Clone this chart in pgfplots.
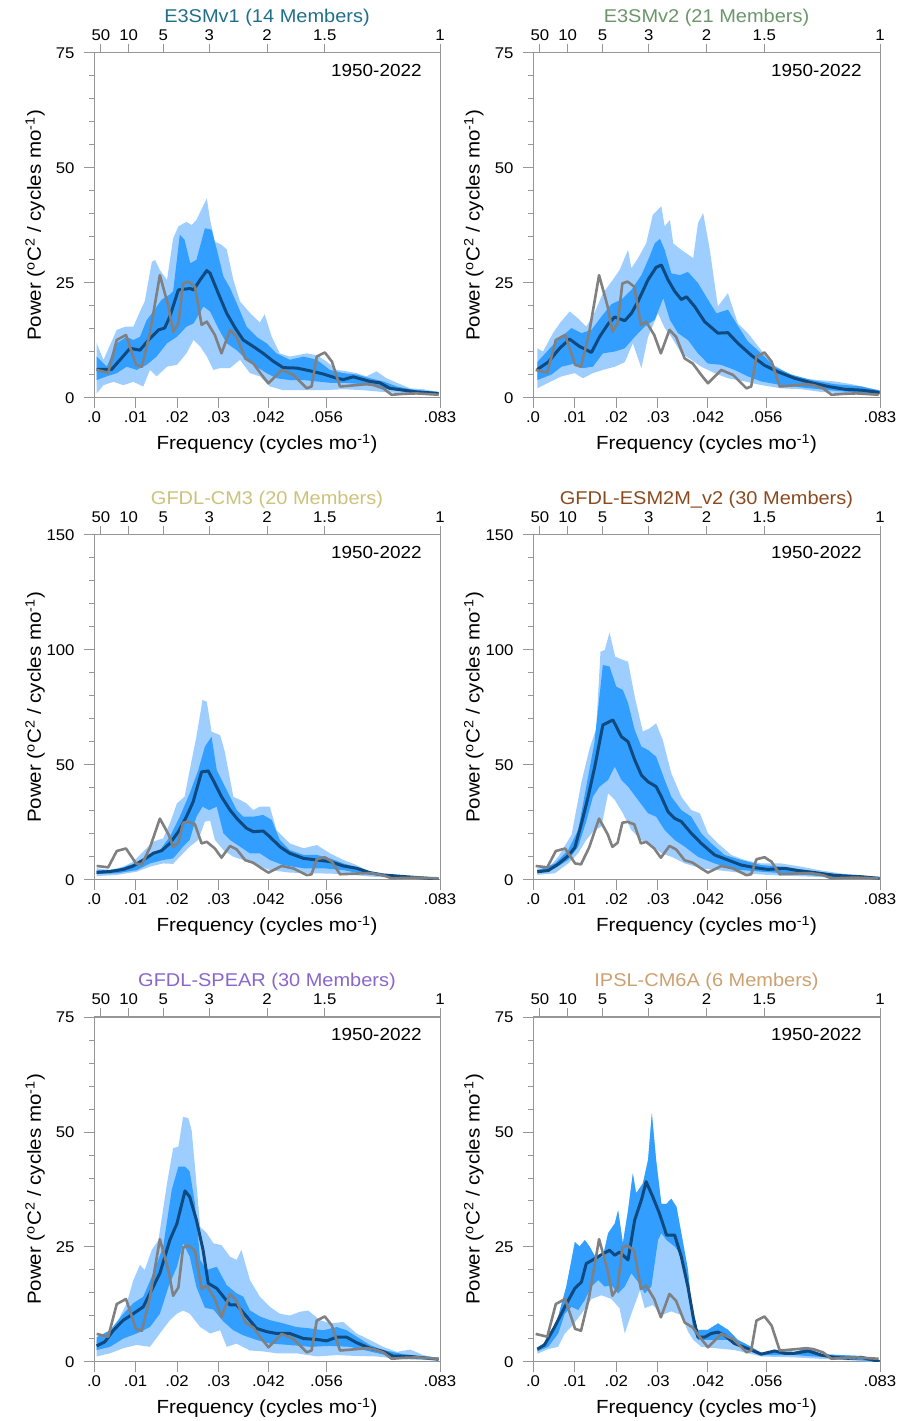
\documentclass[border=0pt]{standalone}
\usepackage{pgfplots}
\pgfplotsset{compat=1.18}
\usepgfplotslibrary{fillbetween}
\usepackage{pgfplotstable}
\usepackage{fontspec}
\setmainfont[FakeStretch=1.08]{Liberation Sans}
\definecolor{lightb}{RGB}{158,206,255}
\definecolor{darkb}{RGB}{50,158,255}
\definecolor{meanc}{RGB}{14,74,128}
\definecolor{obsc}{RGB}{128,128,128}
\definecolor{framec}{RGB}{150,150,150}
\definecolor{tA}{RGB}{31,111,139}
\definecolor{tB}{RGB}{106,150,106}
\definecolor{tC}{RGB}{204,194,122}
\definecolor{tD}{RGB}{139,74,30}
\definecolor{tE}{RGB}{136,102,204}
\definecolor{tF}{RGB}{204,160,112}
\newcommand\fTick{\fontsize{15.5}{18}\selectfont}
\newcommand\fLab{\fontsize{19}{22}\selectfont}
\newcommand\fTitle{\fontsize{18.5}{22}\selectfont}
\newcommand\fYear{\fontsize{17.5}{21}\selectfont}

\pgfplotstableread{
k v
0.56 6.1
3.0 5.5
4.8 12.6
6.75 13.7
8.86 7.2
10.1 6.8
11.8 14.1
13.9 26.7
15.7 19.9
16.7 14.4
17.8 16.2
18.8 24.9
19.9 25.3
21.3 24.2
22.7 15.9
23.8 16.6
25.5 13.7
26.9 9.7
28.7 14.8
30.1 13.3
31.9 8.6
33.6 7.5
35.4 5.0
36.8 3.2
39.6 6.1
42.1 5.0
44.9 2.1
45.9 2.5
47.0 9.0
48.7 9.9
50.2 7.9
51.9 2.5
53.2 2.6
55.4 2.8
57.5 3.0
59.0 2.8
61.0 2.1
62.8 0.7
65.3 0.9
68.1 1.0
72.7 0.7
}\obs

\pgfplotsset{
  panel/.style={
    scale only axis, width=346pt, height=345pt,
    xmin=0, xmax=73, ymin=0,
    axis line style={framec, line width=1pt},
    tick style={framec, line width=1pt},
    tick align=outside,
    major tick length=10pt, minor tick length=5pt,
    xtick={0,8.76,17.52,26.28,36.79,49.06,73},
    xticklabels={.0,.01,.02,.03,.042,.056,.083},
    xtick pos=bottom, ytick pos=left,
    minor y tick num=4,
    ticklabel style={font=\fTick, text=black},
    yticklabel style={xshift=-6pt},
    every axis x label/.style={at={(axis description cs:0.5,-0.1507)},anchor=base,font=\fLab},
    every axis y label/.style={at={(axis description cs:-0.1705,0.5)},rotate=90,anchor=center,font=\fLab},
    xlabel={Frequency (cycles mo\textsuperscript{-1})},
    ylabel={Power (\textsuperscript{o}C\textsuperscript{2} / cycles mo\textsuperscript{-1})},
    title style={at={(axis description cs:0.5,1.07)},anchor=base,font=\fTitle},
  },
  p75/.style={ymax=75, ytick={0,25,50,75}, yticklabels={0,25,50,75}},
  p150/.style={ymax=150, ytick={0,50,100,150}, yticklabels={0,50,100,150}},
  toppanel/.style={
    scale only axis, width=346pt, height=345pt,
    xmin=0, xmax=73, ymin=0, ymax=1,
    axis x line=top, hide y axis,
    axis line style={-, framec, line width=1pt},
    tick style={framec, line width=1pt},
    tick align=outside, major tick length=9pt,
    xtick={1.46,7.3,14.6,24.33,36.5,48.67,73},
    xticklabels={50,10,5,3,2,1.5,1},
    ticklabel style={font=\fTick, text=black},
  },
  lightf/.style={fill=lightb, draw=none},
  darkf/.style={fill=darkb, draw=none},
  meanl/.style={meanc, line width=3pt, line join=round},
  obsl/.style={obsc, line width=2.6pt, line join=round},
}
\newcommand\yearlabel{\node[anchor=base east, font=\fYear] at (rel axis cs:0.957,0.933) {1950-2022};}
\newcommand\dummy{\addplot[draw=none] coordinates {(0,0)(73,1)};}

\begin{document}
\begin{tikzpicture}

% ---------------- Panel 1: E3SMv1
\begin{axis}[panel, p75, at={(94pt,1023pt)}, anchor=south west, title={\color{tA}E3SMv1 (14 Members)}]
\addplot[name path=lu, draw=none] coordinates {(0.56,11.9)(2.0,8.3)(4.8,14.8)(6.6,15.5)(8.3,15.5)(9.7,18.8)(10.7,21.0)(12.2,29.6)(12.9,30.0)(13.9,27.8)(15.4,25.7)(16.7,34.7)(17.8,37.3)(19.5,38.3)(20.6,37.6)(21.6,38.7)(23.8,43.4)(24.5,38.7)(25.5,34.0)(26.9,33.3)(28.0,32.3)(29.4,25.7)(30.8,21.0)(32.9,18.5)(35.0,16.4)(36.0,18.2)(37.5,13.3)(39.2,9.7)(41.3,9.0)(44.9,9.7)(47.0,9.3)(49.1,7.9)(51.2,6.1)(53.3,5.8)(55.4,5.4)(57.5,4.7)(59.6,5.8)(61.7,4.3)(63.9,3.3)(66.7,2.1)(69.5,1.9)(72.7,1.3)};
\addplot[name path=ll, draw=none] coordinates {(0.56,1.0)(2.0,2.8)(4.1,3.5)(6.2,2.8)(8.3,3.5)(10.4,2.5)(11.8,6.1)(13.2,4.7)(15.4,6.8)(17.5,7.2)(19.5,9.7)(21.0,12.6)(22.4,11.2)(23.8,9.0)(25.2,6.1)(26.6,6.5)(28.7,6.5)(30.8,8.3)(32.9,5.4)(35.0,4.7)(37.1,2.5)(39.9,1.7)(44.2,1.7)(48.4,1.7)(52.6,1.9)(56.8,1.7)(61.0,1.3)(65.3,1.0)(69.5,0.8)(72.7,0.7)};
\addplot[lightf] fill between[of=lu and ll];
\addplot[name path=du, draw=none] coordinates {(0.56,9.0)(2.7,6.8)(4.8,11.9)(6.9,13.3)(8.3,12.6)(9.7,13.3)(11.1,16.9)(12.5,18.8)(14.3,21.4)(16.0,22.5)(16.7,23.2)(18.1,35.5)(19.1,34.4)(20.3,29.3)(21.6,30.0)(23.4,36.9)(24.8,36.6)(25.9,32.3)(27.3,26.4)(28.7,23.9)(30.4,19.9)(32.2,15.5)(34.3,13.3)(36.4,11.9)(38.5,9.7)(41.3,8.3)(44.2,9.0)(47.0,8.3)(49.8,6.1)(52.6,5.4)(55.4,5.1)(58.2,4.3)(61.0,3.6)(63.9,2.5)(66.7,1.9)(69.5,1.6)(72.7,1.2)};
\addplot[name path=dl, draw=none] coordinates {(0.56,3.9)(2.7,4.7)(4.8,5.4)(6.9,6.8)(9.0,6.1)(11.1,7.2)(13.2,9.0)(15.4,11.9)(17.5,13.3)(19.5,15.5)(21.0,16.2)(23.1,19.9)(24.5,18.8)(26.2,15.2)(28.0,11.9)(30.1,10.4)(32.2,8.3)(34.3,6.8)(36.4,5.4)(38.5,4.3)(41.3,3.9)(44.2,3.9)(47.0,3.6)(49.8,3.3)(52.6,3.3)(55.4,3.1)(58.2,2.8)(61.0,2.1)(63.9,1.6)(66.7,1.2)(72.7,0.8)};
\addplot[darkf] fill between[of=du and dl];
\addplot[meanl] coordinates {(0.56,6.2)(3.7,6.2)(5.5,8.3)(7.6,10.8)(9.7,10.4)(11.5,12.6)(13.6,14.8)(14.9,15.2)(16.0,17.7)(17.8,23.5)(20.3,23.8)(21.0,23.5)(22.4,25.7)(23.8,27.7)(24.5,27.1)(26.2,22.8)(28.0,18.4)(29.8,15.2)(31.5,12.6)(33.6,11.2)(35.7,9.7)(37.8,8.0)(39.9,6.6)(42.8,6.5)(45.6,5.9)(48.4,5.2)(51.2,4.3)(52.6,4.0)(54.7,4.6)(56.1,4.2)(58.2,3.6)(60.3,3.3)(62.4,2.1)(65.3,1.7)(68.1,1.3)(72.7,1.0)};
\addplot[obsl] table[x=k,y=v] {\obs};
\yearlabel
\end{axis}
\begin{axis}[toppanel, at={(94pt,1023pt)}, anchor=south west]\dummy\end{axis}

% ---------------- Panel 2: E3SMv2
\begin{axis}[panel, p75, width=347pt, at={(533pt,1023pt)}, anchor=south west, title={\color{tB}E3SMv2 (21 Members)}]
\addplot[name path=lu, draw=none] coordinates {(0.9,10.8)(2.1,10.1)(4.2,14.1)(5.6,16.2)(7.7,18.8)(9.5,17.3)(11.2,15.5)(12.9,18.4)(14.7,22.8)(16.8,25.7)(18.2,27.8)(20.0,32.2)(20.7,28.2)(22.1,30.4)(23.8,33.6)(25.2,39.8)(27.0,41.7)(27.7,37.3)(28.8,38.7)(29.5,33.6)(31.2,32.2)(33.7,30.4)(34.7,38.0)(35.8,40.2)(37.2,32.2)(38.9,19.9)(41.0,22.8)(43.1,16.2)(45.2,14.1)(48.0,10.4)(50.8,7.1)(53.6,5.4)(56.4,4.3)(59.9,3.9)(63.5,3.6)(67.0,3.0)(72.9,1.7)};
\addplot[name path=ll, draw=none] coordinates {(0.9,2.1)(3.2,3.3)(6.0,4.7)(8.8,5.4)(10.5,4.3)(12.6,5.4)(14.7,6.1)(17.2,6.8)(19.3,7.8)(21.0,11.9)(22.8,6.5)(24.2,13.3)(26.3,18.4)(27.7,15.2)(29.1,13.3)(31.2,9.7)(33.3,8.3)(35.4,6.8)(38.2,5.4)(41.0,4.3)(44.5,3.6)(48.0,2.8)(52.2,2.1)(56.4,1.9)(60.7,1.3)(65.6,1.0)(72.9,0.7)};
\addplot[lightf] fill between[of=lu and ll];
\addplot[name path=du, draw=none] coordinates {(0.9,7.8)(3.9,11.2)(6.0,13.3)(8.1,15.2)(10.2,14.1)(12.3,14.8)(14.4,17.7)(16.5,20.4)(18.6,21.4)(20.7,23.5)(22.8,26.7)(24.5,30.7)(25.6,33.6)(26.7,34.6)(27.7,32.2)(29.1,27.1)(30.9,26.7)(32.6,27.4)(34.7,25.0)(36.8,21.4)(38.6,18.4)(41.0,19.2)(42.8,16.2)(45.2,12.3)(48.0,9.7)(50.8,6.8)(54.3,5.1)(58.6,3.9)(63.5,3.0)(69.1,2.5)(72.9,1.6)};
\addplot[name path=dl, draw=none] coordinates {(0.9,3.9)(3.9,5.1)(6.0,6.8)(8.8,7.5)(10.5,6.5)(12.6,6.8)(14.7,9.7)(17.2,10.1)(19.3,10.8)(21.4,13.3)(23.5,15.5)(25.6,17.0)(27.4,21.7)(28.8,17.0)(30.5,14.1)(32.6,12.6)(34.7,9.7)(36.8,7.5)(39.6,7.2)(42.4,6.1)(45.2,4.7)(48.0,3.6)(52.2,2.8)(56.4,2.3)(62.1,1.7)(72.9,0.8)};
\addplot[darkf] fill between[of=du and dl];
\addplot[meanl] coordinates {(0.9,6.2)(3.2,7.8)(5.6,10.8)(7.7,12.8)(9.8,11.2)(12.3,9.9)(14.0,13.3)(15.8,16.1)(17.2,17.6)(19.3,16.8)(20.7,18.4)(22.1,21.0)(24.2,25.7)(25.9,28.4)(27.0,28.9)(28.4,25.7)(29.8,23.2)(31.2,21.4)(32.3,22.0)(34.0,19.9)(36.1,16.6)(38.9,14.1)(41.0,14.2)(43.1,11.9)(45.9,9.3)(48.7,7.1)(51.5,5.7)(55.0,4.3)(58.6,3.3)(62.1,2.5)(65.6,1.9)(69.1,1.7)(72.9,1.2)};
\addplot[obsl] table[x=k,y=v] {\obs};
\yearlabel
\end{axis}
\begin{axis}[toppanel, width=347pt, at={(533pt,1023pt)}, anchor=south west]\dummy\end{axis}

% ---------------- Panel 3: GFDL-CM3
\begin{axis}[panel, p150, at={(94pt,541pt)}, anchor=south west, title={\color{tC}GFDL-CM3 (20 Members)}]
\addplot[name path=lu, draw=none] coordinates {(0.56,5.1)(3.4,4.3)(6.2,5.8)(8.3,8.0)(10.4,12.3)(12.5,16.7)(14.6,18.1)(16.0,24.6)(17.5,33.3)(19.1,36.2)(20.2,47.8)(21.6,62.3)(22.9,78.3)(23.8,77.5)(24.8,64.5)(26.6,63.0)(27.6,55.8)(29.4,36.2)(30.8,34.8)(32.2,33.3)(33.6,30.4)(35.0,31.9)(37.1,31.9)(38.5,21.7)(41.3,15.9)(44.2,13.8)(47.0,15.2)(49.8,11.6)(52.6,8.7)(55.4,6.5)(58.2,3.6)(62.4,2.2)(66.7,1.5)(72.7,0.7)};
\addplot[name path=ll, draw=none] coordinates {(0.56,1.7)(4.8,2.2)(9.0,3.6)(11.8,5.8)(14.6,7.2)(16.7,7.0)(18.1,10.1)(20.2,14.5)(22.0,17.4)(23.4,25.4)(24.5,25.8)(25.5,17.4)(27.3,13.0)(29.4,10.1)(31.5,8.7)(34.3,6.5)(37.1,4.3)(41.3,3.2)(47.0,2.9)(52.6,2.6)(58.2,1.5)(65.3,0.7)(72.7,0.3)};
\addplot[lightf] fill between[of=lu and ll];
\addplot[name path=du, draw=none] coordinates {(0.56,4.1)(4.8,4.6)(8.3,7.0)(11.1,10.1)(13.9,13.0)(16.0,18.8)(18.1,27.5)(20.2,37.7)(22.0,47.8)(23.4,58.0)(24.8,62.3)(25.9,47.8)(27.3,42.0)(28.7,36.2)(30.1,30.4)(31.5,27.5)(33.6,27.5)(35.7,28.3)(37.5,26.1)(39.2,17.4)(41.3,13.0)(44.2,10.9)(47.0,10.9)(49.8,9.4)(52.6,7.2)(55.4,5.5)(58.2,3.2)(62.4,1.7)(72.7,0.6)};
\addplot[name path=dl, draw=none] coordinates {(0.56,2.6)(4.8,2.9)(9.0,4.3)(11.8,7.2)(14.6,8.7)(16.7,9.4)(18.8,14.5)(20.2,17.4)(21.6,27.5)(22.9,31.9)(24.3,30.4)(25.9,31.9)(27.3,20.3)(28.7,17.4)(30.8,14.5)(32.9,11.6)(35.0,11.6)(37.1,8.7)(39.9,6.5)(44.2,5.1)(48.4,5.1)(52.6,4.3)(56.8,2.6)(62.4,1.2)(72.7,0.3)};
\addplot[darkf] fill between[of=du and dl];
\addplot[meanl] coordinates {(0.56,3.3)(3.4,3.7)(6.2,4.6)(8.3,6.1)(10.4,8.7)(12.5,11.6)(14.3,12.8)(16.0,15.9)(17.8,21.0)(19.5,27.5)(20.9,33.9)(22.7,47.0)(24.1,47.4)(25.5,42.0)(26.9,36.2)(28.7,30.4)(30.4,26.1)(32.2,22.5)(33.6,21.0)(35.7,21.3)(37.1,18.8)(39.2,14.5)(41.3,11.6)(44.2,9.4)(47.0,8.7)(49.8,8.0)(52.6,6.1)(55.4,5.1)(58.2,3.2)(61.0,2.2)(65.3,1.5)(72.7,0.4)};
\addplot[obsl] table[x=k,y=v] {\obs};
\yearlabel
\end{axis}
\begin{axis}[toppanel, at={(94pt,541pt)}, anchor=south west]\dummy\end{axis}

% ---------------- Panel 4: GFDL-ESM2M_v2
\begin{axis}[panel, p150, width=347pt, at={(533pt,541pt)}, anchor=south west, title={\color{tD}GFDL-ESM2M\_v2 (30 Members)}]
\addplot[name path=lu, draw=none] coordinates {(0.9,5.1)(3.2,5.1)(5.3,10.1)(8.1,19.6)(10.2,42.7)(11.9,57.2)(13.3,65.9)(14.2,99.3)(15.1,100.0)(16.1,107.6)(17.3,97.1)(18.9,95.7)(20.0,94.9)(21.4,79.7)(23.1,64.5)(24.5,65.9)(25.9,68.1)(27.3,60.9)(29.1,46.4)(31.2,36.2)(33.3,30.4)(35.1,29.0)(36.8,20.3)(38.9,15.9)(41.7,10.9)(44.5,8.7)(48.0,7.2)(52.2,7.2)(56.4,5.8)(60.7,4.1)(65.6,2.6)(72.9,1.4)};
\addplot[name path=ll, draw=none] coordinates {(0.9,2.2)(4.6,2.9)(7.4,7.2)(9.5,11.6)(11.2,17.4)(12.9,21.7)(14.4,23.2)(15.8,37.7)(17.2,34.8)(18.9,29.0)(20.7,21.7)(22.8,17.4)(24.9,15.2)(27.0,11.6)(29.1,10.1)(31.9,7.2)(35.4,5.1)(39.6,4.1)(44.5,2.9)(49.4,2.2)(55.0,1.7)(62.1,1.2)(72.9,0.3)};
\addplot[lightf] fill between[of=lu and ll];
\addplot[name path=du, draw=none] coordinates {(0.9,4.1)(4.6,7.2)(7.4,13.0)(9.5,21.7)(11.2,40.6)(12.9,59.4)(14.7,93.5)(16.1,92.8)(17.5,84.1)(18.9,82.6)(20.0,76.8)(21.4,65.2)(22.8,58.0)(24.2,56.5)(25.9,53.6)(27.7,43.5)(29.1,36.2)(31.2,30.4)(33.3,27.5)(35.4,20.3)(37.5,15.9)(40.3,10.9)(43.8,8.7)(48.0,6.5)(52.2,5.8)(56.4,4.6)(62.1,2.9)(72.9,1.0)};
\addplot[name path=dl, draw=none] coordinates {(0.9,2.9)(4.6,5.1)(7.4,8.7)(9.5,14.5)(11.2,25.4)(12.6,36.2)(14.0,40.6)(15.8,43.5)(17.2,49.3)(18.6,43.5)(20.0,40.6)(22.1,34.8)(24.2,29.0)(25.9,27.5)(27.7,21.7)(29.8,17.4)(31.9,14.5)(34.7,10.1)(38.2,7.2)(42.4,4.6)(48.0,3.6)(55.0,2.6)(62.1,1.4)(72.9,0.6)};
\addplot[darkf] fill between[of=du and dl];
\addplot[meanl] coordinates {(0.9,3.6)(3.2,4.1)(5.3,6.9)(7.4,10.5)(8.8,14.1)(10.2,24.6)(11.6,36.2)(13.0,49.3)(14.7,67.4)(16.8,69.6)(18.6,62.3)(20.0,60.1)(21.4,52.2)(22.8,45.6)(24.2,42.7)(25.9,40.6)(27.0,36.2)(28.4,29.7)(29.8,26.8)(31.2,25.4)(33.3,20.3)(35.4,15.9)(38.2,10.9)(41.0,8.7)(43.8,6.5)(46.6,5.4)(49.4,4.6)(52.9,5.1)(55.7,4.1)(59.3,3.2)(63.5,2.0)(69.1,1.4)(72.9,0.7)};
\addplot[obsl] table[x=k,y=v] {\obs};
\yearlabel
\end{axis}
\begin{axis}[toppanel, width=347pt, at={(533pt,541pt)}, anchor=south west]\dummy\end{axis}

% ---------------- Panel 5: GFDL-SPEAR
\begin{axis}[panel, p75, at={(94pt,59pt)}, anchor=south west, title={\color{tE}GFDL-SPEAR (30 Members)}]
\addplot[name path=lu, draw=none] coordinates {(0.56,4.8)(2.7,5.5)(4.8,8.4)(6.9,12.8)(8.3,17.8)(9.7,21.1)(10.7,20.0)(12.2,24.4)(13.6,26.5)(15.4,38.8)(16.7,46.5)(17.8,46.8)(18.8,53.3)(19.9,53.0)(20.6,50.4)(21.3,42.5)(22.4,29.4)(23.8,28.0)(25.2,25.8)(26.9,25.4)(28.7,22.9)(30.1,22.2)(31.1,24.4)(32.9,17.8)(35.0,14.2)(37.1,12.0)(39.2,10.5)(41.3,10.1)(43.4,10.9)(45.2,11.2)(47.7,9.1)(49.8,8.4)(52.6,8.7)(55.4,6.2)(58.2,4.8)(61.0,3.3)(63.9,2.2)(66.7,2.7)(69.5,1.5)(72.7,0.8)};
\addplot[name path=ll, draw=none] coordinates {(0.56,1.2)(3.4,1.9)(6.2,3.0)(9.0,3.7)(11.8,3.3)(13.9,6.2)(16.0,9.1)(17.5,10.5)(18.8,11.2)(20.2,10.5)(22.4,7.6)(24.5,6.2)(26.6,6.9)(28.0,3.3)(30.1,4.0)(32.9,2.5)(35.7,2.3)(38.5,1.9)(42.7,1.9)(47.0,1.2)(51.2,1.5)(55.4,1.3)(59.6,1.2)(65.3,0.6)(72.7,0.3)};
\addplot[lightf] fill between[of=lu and ll];
\addplot[name path=du, draw=none] coordinates {(0.56,5.4)(3.4,6.9)(6.2,10.5)(8.3,12.8)(10.4,14.2)(12.5,19.3)(14.6,25.1)(16.4,37.4)(17.8,42.5)(19.2,42.5)(20.2,41.4)(21.3,34.4)(22.4,22.2)(23.8,20.0)(25.9,20.7)(28.0,16.7)(30.1,14.9)(31.5,14.2)(32.9,11.2)(35.0,9.9)(37.1,9.1)(39.9,8.4)(42.7,7.6)(45.6,7.3)(48.4,6.9)(51.2,7.6)(53.3,6.9)(55.4,5.5)(58.2,3.7)(61.0,2.6)(65.3,1.7)(72.7,0.7)};
\addplot[name path=dl, draw=none] coordinates {(0.56,2.6)(3.4,3.3)(6.2,5.1)(9.0,6.2)(11.8,7.6)(13.9,10.5)(15.7,16.3)(17.5,20.7)(18.8,25.8)(20.2,22.9)(21.6,16.3)(23.4,11.8)(25.2,11.4)(27.3,8.8)(29.4,6.9)(31.5,5.8)(34.3,4.8)(37.1,4.0)(41.3,3.7)(45.6,3.3)(49.8,3.5)(54.0,3.3)(58.2,2.3)(62.4,1.3)(72.7,0.4)};
\addplot[darkf] fill between[of=du and dl];
\addplot[meanl] coordinates {(0.56,3.5)(2.3,4.4)(4.1,6.9)(6.2,9.1)(8.3,10.5)(10.4,12.0)(11.8,14.9)(13.9,19.3)(16.0,26.5)(17.5,30.1)(19.2,37.2)(20.2,35.9)(21.6,30.9)(23.0,24.4)(24.1,17.1)(25.9,16.0)(27.3,14.2)(28.7,12.4)(30.1,12.4)(32.2,9.9)(34.3,7.3)(36.4,6.6)(38.5,6.2)(41.3,6.2)(44.2,5.1)(47.0,4.9)(49.1,4.6)(51.2,5.4)(53.3,5.4)(55.4,4.2)(58.2,3.0)(61.0,2.3)(63.1,1.3)(66.7,1.2)(72.7,0.6)};
\addplot[obsl] table[x=k,y=v] {\obs};
\yearlabel
\end{axis}
\begin{axis}[toppanel, at={(94pt,59pt)}, anchor=south west]\dummy\end{axis}

% ---------------- Panel 6: IPSL-CM6A
\begin{axis}[panel, p75, width=347pt, at={(533pt,59pt)}, anchor=south west, title={\color{tF}IPSL-CM6A (6 Members)}]
\addplot[name path=du, draw=none] coordinates {(0.9,3.0)(3.2,4.8)(5.3,9.9)(7.0,16.4)(8.1,22.2)(8.8,26.1)(9.8,25.1)(10.9,26.5)(11.9,25.1)(13.3,22.5)(14.7,22.9)(15.8,28.0)(17.2,30.1)(17.9,33.0)(18.9,25.8)(20.0,33.0)(21.0,41.0)(21.7,36.7)(23.1,38.8)(24.2,43.9)(25.0,54.1)(25.9,43.9)(27.0,34.4)(28.1,34.4)(29.1,35.5)(30.2,33.7)(31.2,28.0)(32.6,20.0)(33.7,8.4)(34.7,7.0)(36.8,7.0)(38.9,8.4)(41.0,7.0)(43.1,4.8)(45.9,3.3)(48.0,2.0)(50.8,2.4)(55.0,2.2)(57.9,3.0)(60.7,1.7)(69.1,1.3)(72.9,0.2)};
\addplot[name path=ll, draw=none] coordinates {(0.9,1.8)(3.2,2.8)(5.3,3.3)(6.7,6.2)(8.1,7.7)(10.2,10.5)(12.3,13.7)(14.4,14.5)(16.5,13.7)(18.2,11.7)(19.3,6.2)(20.7,10.5)(22.5,15.6)(23.5,11.7)(25.2,12.4)(27.0,10.2)(29.1,11.0)(31.2,10.2)(32.6,6.6)(33.7,4.8)(35.4,3.3)(38.2,3.0)(42.4,2.6)(48.0,1.2)(55.0,1.0)(72.9,0.0)};
\addplot[lightf] fill between[of=du and ll];
\addplot[name path=dl, draw=none] coordinates {(0.9,2.3)(3.2,3.3)(5.3,6.2)(6.7,10.5)(8.1,12.0)(9.5,11.3)(10.9,13.5)(12.3,16.4)(13.7,17.8)(15.1,16.4)(16.5,16.7)(17.9,14.9)(19.3,16.4)(20.7,19.3)(22.1,17.4)(23.5,14.9)(24.9,16.4)(26.3,26.5)(27.0,28.0)(28.1,26.5)(29.8,25.1)(31.5,22.9)(32.6,16.3)(33.7,7.0)(34.7,4.8)(37.5,4.8)(41.0,4.8)(43.8,3.3)(48.0,1.5)(55.0,1.5)(62.1,1.0)(72.9,0.0)};
\addplot[darkf] fill between[of=du and dl];
\addplot[meanl] coordinates {(0.9,2.8)(2.4,3.7)(4.6,7.7)(6.7,12.0)(8.8,16.0)(10.2,17.4)(11.2,21.4)(12.9,22.4)(14.7,23.5)(16.1,24.3)(17.2,23.2)(18.2,23.9)(20.0,22.2)(21.4,30.9)(22.8,35.2)(23.8,39.2)(25.2,35.9)(26.6,32.3)(28.1,27.6)(29.8,27.6)(31.2,22.9)(32.6,16.3)(33.7,9.8)(34.7,5.4)(36.1,5.4)(37.5,6.2)(38.9,6.5)(40.3,5.8)(42.4,4.0)(45.2,2.9)(48.0,1.7)(50.8,2.4)(52.9,1.9)(55.0,1.9)(57.9,2.4)(60.7,1.5)(63.5,1.0)(66.3,0.8)(69.1,1.0)(72.9,0.1)};
\addplot[obsl] table[x=k,y=v] {\obs};
\yearlabel
\end{axis}
\begin{axis}[toppanel, width=347pt, at={(533pt,59pt)}, anchor=south west]\dummy\end{axis}

\pgfresetboundingbox
\path[use as bounding box] (0,0) rectangle (897pt,1421pt);
\end{tikzpicture}
\end{document}
